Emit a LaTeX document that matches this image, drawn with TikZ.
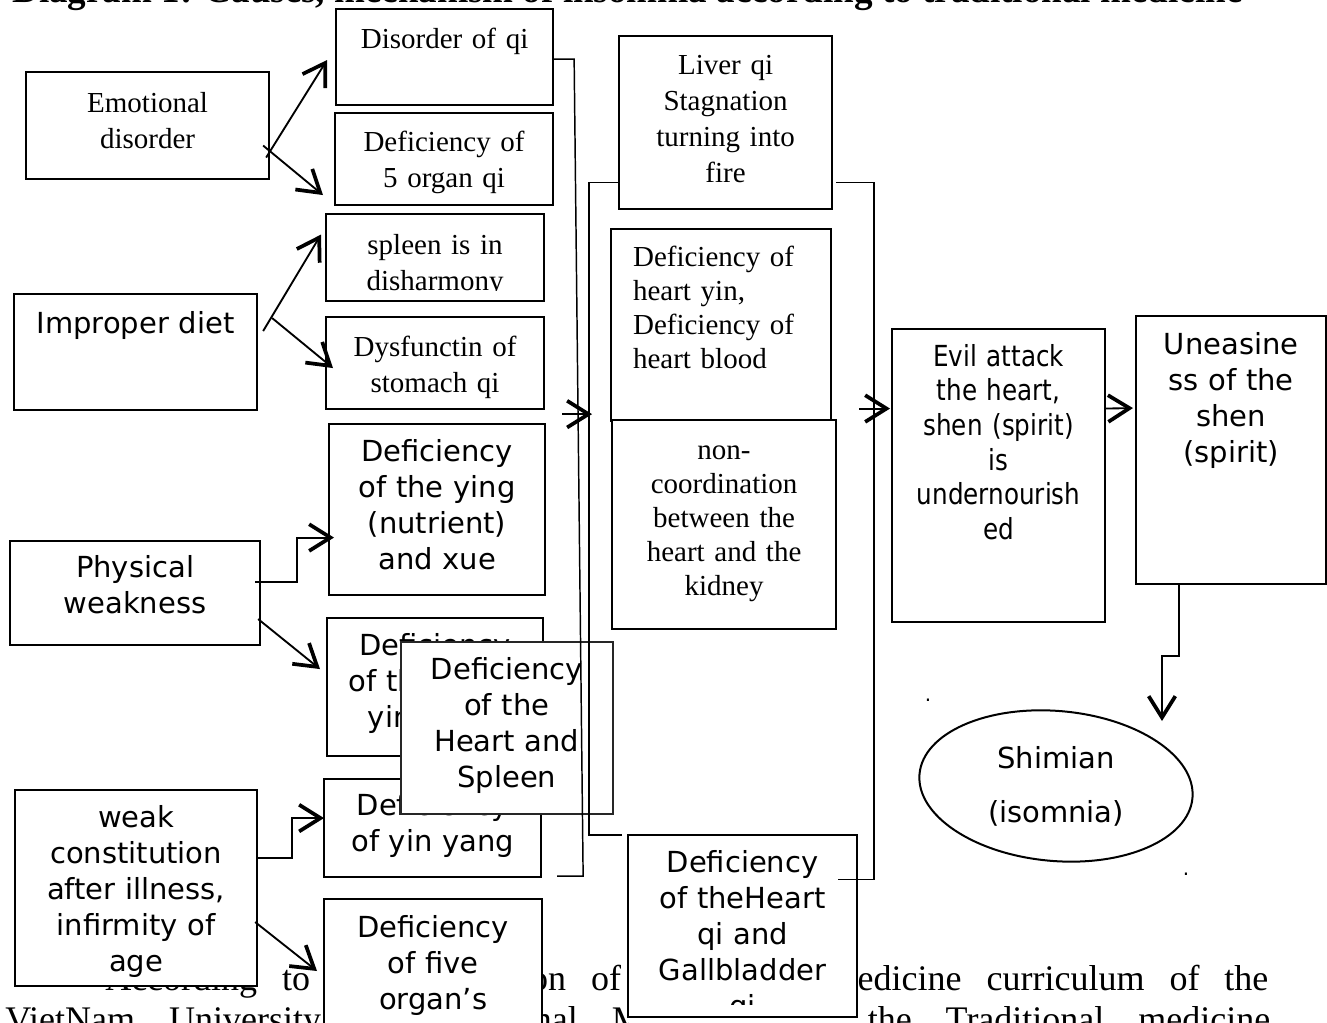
\documentclass[tikz,border=0pt]{standalone}
\usepackage{fontspec}
\setmainfont{Liberation Serif}
\newfontfamily\dejavu{DejaVu Sans}
\newfontfamily\dejavucond[FakeStretch=0.85]{DejaVu Sans}
\usetikzlibrary{calc, arrows.meta, shapes.geometric}
\newdimen\px \px=0.75pt

\tikzset{
  box/.style={draw, line width=1.6pt, fill=white, inner sep=0pt, anchor=north west, align=center},
  sz/.style n args={3}{text width=#1\px, text height=#2\px, text depth=#3\px},
  serif/.style={font=\fontsize{21.75pt}{27pt}\selectfont},
  tight/.style={font=\fontsize{21.75pt}{25.5pt}\selectfont},
  sans/.style={font=\dejavu\fontsize{21.75pt}{27pt}\selectfont},
  overbox/.style={line width=1.2pt, draw=black!85},
  link/.style={line width=1.1pt},
  arr/.style={line width=1.4pt, -{Straight Barb[length=16pt, width=20pt, line width=2.8pt]}},
}

\begin{document}
\begin{tikzpicture}[x=0.75pt, y=-0.75pt]
  \useasboundingbox (0,0) rectangle (1327,1023);
  \clip (0,0) rectangle (1327,1023);

  \node[anchor=base west, inner sep=0pt, font=\bfseries\fontsize{27.8pt}{30pt}\selectfont] (title) at (12,3)
    {Diagram 1: Causes, mechanism of insomnia according to traditional medicine};
  \node[anchor=base west, inner sep=0pt, font=\fontsize{27pt}{33pt}\selectfont] (bodyone) at (105,990)
    {\makebox[1163\px][s]{According to the publication of Traditional medicine curriculum of the}};
  \node[anchor=base west, inner sep=0pt, font=\fontsize{27pt}{33pt}\selectfont] (bodytwo) at (5,1031)
    {\makebox[1265\px][s]{VietNam University of Traditional Medicine and the Traditional medicine}};

  \node[box, serif, sz={243}{40}{67}] (emotional) at (25,71) {Emotional\\disorder};
  \node[box, sans, sz={243}{39}{77}] (improperdiet) at (13,293) {Improper diet};
  \node[box, sans, sz={250}{36}{68}] (physical) at (9,540) {Physical\\weakness};
  \node[box, sans, sz={242}{37}{159}] (weak) at (14,789) {weak\\constitution\\after illness,\\infirmity of\\age};

  \node[box, serif, sz={217}{39}{57}] (disorderqi) at (335,8) {Disorder of qi};
  \node[box, serif, sz={218}{38}{54}] (fiveorganqi) at (334,112) {Deficiency of\\5 organ qi};
  \node[box, serif, sz={218}{40}{47}] (spleen) at (325,213) {spleen is in\\disharmony};
  \fill[white] ($(spleen.south west)+(2,-11)$) rectangle ($(spleen.south east)+(-2,-2)$);
  \node[box, serif, sz={218}{39}{53}] (stomach) at (325,316) {Dysfunctin of\\stomach qi};
  \node[box, sans, sz={216}{37}{134}] (ying) at (328,423) {Deficiency\\of the ying\\(nutrient)\\and xue};
  \node[box, sans, sz={216}{37}{101}] (yinhidden) at (326,617) {Deficiency\\of the heart\\yin, yang};
  \node[box, sans, sz={217}{36}{62}] (yinyang) at (323,778) {Deficiency\\of yin yang};
  \node[box, sans, sz={218}{38}{110}] (fiveorgans) at (323,898) {Deficiency\\of five\\organ’s};
  \node[box, sans, overbox, sz={212}{38}{134}] (heartspleen) at (400,641) {Deficiency\\of the\\Heart and\\Spleen};

  \node[box, serif, sz={213}{38}{135}] (liver) at (618,35) {Liver qi\\Stagnation\\turning into\\fire};
  \node[box, tight, align=left, inner xsep=22\px, sz={176}{37}{155}] (heartyin) at (610,228)
    {Deficiency of\\heart yin,\\Deficiency of\\heart blood};
  \node[box, tight, sz={224}{39}{170}] (noncoord) at (611,419) {non-\\coordination\\between the\\heart and the\\kidney};
  \node[box, sans, sz={229}{37}{144}] (gallbladder) at (627,834) {Deficiency\\of theHeart\\qi and\\Gallbladder\\qi};
  \fill[white] ($(gallbladder.south west)+(2,-12)$) rectangle ($(gallbladder.south east)+(-2,10)$);
  \draw[line width=1.6pt] (gallbladder.south west) -- (gallbladder.south east);

  \node[box, font=\dejavucond\fontsize{21.75pt}{26pt}\selectfont, sz={213}{37}{256}] (evil) at (891,328)
    {Evil attack\\the heart,\\shen (spirit)\\is\\undernourish\\ed};
  \node[box, sans, sz={190}{38}{230}] (uneasiness) at (1135,315) {Uneasine\\ss of the\\shen\\(spirit)};

  \node[ellipse, minimum width=274\px, minimum height=150\px, inner sep=0pt, align=center,
    font=\dejavu\fontsize{21.75pt}{40.5pt}\selectfont] (shimian) at (1056,786) {Shimian\\(isomnia)};
  \draw[line width=1.5pt, rotate around={-5:(shimian.center)}] (shimian.center) ellipse [x radius=137, y radius=75];
  \node[anchor=base, inner sep=0pt, font=\dejavu\fontsize{15pt}{16pt}\selectfont] (dota) at (928,701) {.};
  \node[anchor=base, inner sep=0pt, font=\dejavu\fontsize{15pt}{16pt}\selectfont] (dotb) at (1186,875) {.};

  \draw[arr] ($(emotional.east)+(-4,32)$) -- ($(disorderqi.west)+(-8,3)$);
  \draw[arr] ($(emotional.east)+(-7,20)$) -- ($(fiveorganqi.west)+(-11,36)$);
  \draw[arr] ($(improperdiet.east)+(5,-21)$) -- ($(spleen.west)+(-4,-23)$);
  \draw[arr] ($(improperdiet.east)+(14,-34)$) -- ($(stomach.west)+(8,5)$);
  \draw[arr] ($(physical.east)+(-6,-11)$) -- ++(42,0) |- ($(ying.west)+(6,28)$);
  \draw[arr] ($(physical.east)+(-3,26)$) -- ($(yinhidden.west)+(-6,-18)$);
  \draw[arr] ($(weak.east)+(-2,-30)$) -- ++(36,0) |- ($(yinyang.west)+(1,-10)$);
  \draw[arr] ($(weak.east)+(-3,34)$) -- ($(fiveorgans.north west)+(-6,73)$);

  \draw[link] ($(yinyang.south east)+(15,-2)$) -- ++(26,0) -- ($(disorderqi.east)+(20,2)$) -- ($(disorderqi.east)+(0,2)$);
  \draw[link] ($(liver.west)+(0,60)$) -- ++(-29,0) |- ($(gallbladder.north west)+(-5,1)$);
  \draw[arr] ($(heartyin.south west)+(-48,-8)$) -- ++(30,0);
  \draw[link] ($(liver.east)+(3,60)$) -- ++(38,0) |- ($(gallbladder.east)+(-20,-46)$);
  \draw[arr] ($(evil.west)+(-32,-67)$) -- ++(31,0);
  \draw[arr] ($(evil.east)+(-1,-67)$) -- ($(uneasiness.west)+(-2,-42)$);

  \coordinate (sleeptip) at ($(shimian.center)+(106,-65)$);
  \draw[arr] ($(uneasiness.south)+(-52,0)$) -- ++(0,71) -| (sleeptip);
\end{tikzpicture}
\end{document}
